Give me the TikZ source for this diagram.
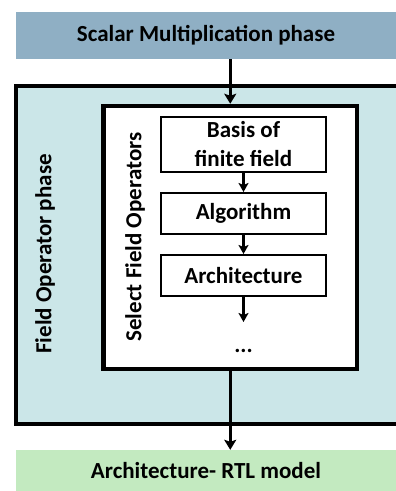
\documentclass[tikz,border=0pt]{standalone}
\usepackage{fontspec}
\setmainfont{Carlito}
\usetikzlibrary{arrows.meta}
\definecolor{phaseblue}{RGB}{143,175,196}
\definecolor{phasecyan}{RGB}{203,230,232}
\definecolor{phasegreen}{RGB}{195,234,192}
\tikzset{
  x=1pt, y=1pt,
  every node/.style={font=\fontsize{23}{29}\selectfont\bfseries, inner sep=0pt},
  banner/.style={rectangle, minimum width=380, anchor=center},
  stage/.style={rectangle, draw=black, line width=2pt, fill=white, minimum width=165, align=center},
  flow/.style={line width=3.5pt, -{Stealth[length=10pt, width=12pt, inset=2pt]}},
  smallflow/.style={line width=2.8pt, -{Stealth[length=9pt, width=10pt, inset=2pt]}}
}
\begin{document}
\begin{tikzpicture}
\useasboundingbox (0,0) rectangle (396,-491);

% top and bottom phase banners
\node[banner, fill=phaseblue, minimum height=47] (scalar) at (206,-35.5) {Scalar Multiplication phase};
\node[banner, fill=phasegreen, minimum height=42] (rtl) at (206,-471) {Architecture- RTL model};

% field operator phase frame (runs past the right edge)
\node[rectangle, draw=black, line width=4.5pt, fill=phasecyan, minimum width=384.2, minimum height=338] (fop) at (207.9,-255) {};
\node[rotate=90] (foplabel) at (45,-254) {Field Operator phase};

% select field operators frame
\node[rectangle, draw=black, line width=4.5pt, fill=white, minimum width=253.5, minimum height=263] (sel) at (230.25,-237.5) {};
\node[rotate=90] (sellabel) at (135,-237) {Select Field Operators};

% operator stages
\node[stage, minimum height=55] (basis) at (243.5,-144.2) {Basis of\\finite field};
\node[stage, minimum height=41] (algo) at (243.5,-213.5) {Algorithm};
\node[stage, minimum height=41] (arch) at (243.5,-275.5) {Architecture};
\coordinate (more) at (243.5,-322);
\node (dots) at (243.5,-351) {...};

% connectors
\draw[flow] (scalar.south -| sel.north) -- (sel.north);
\draw[flow] (sel.south) -- (sel.south |- rtl.north);
\draw[smallflow] (basis) -- (algo);
\draw[smallflow] (algo) -- (arch);
\draw[smallflow] (arch) -- (more);
\end{tikzpicture}
\end{document}
